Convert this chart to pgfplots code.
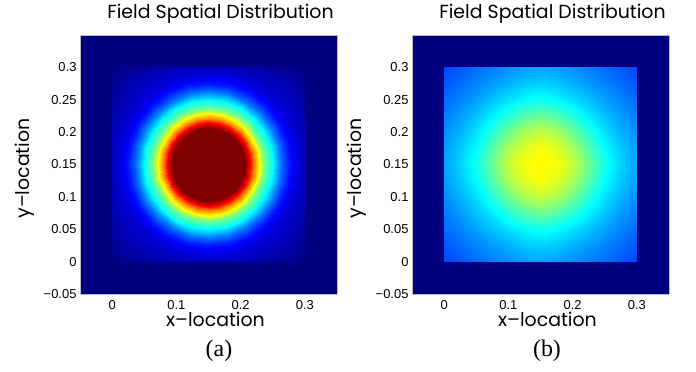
\documentclass[border=0pt]{standalone}
\usepackage{fontspec}
\usepackage{pgfplots}
\pgfplotsset{compat=1.18}
\newfontfamily\arialf{Liberation Sans}
\newfontfamily\gothic{Poppins}
\newfontfamily\timesf{Liberation Serif}
\pgfplotsset{
  fieldax/.style={
    view={0}{90}, scale only axis, width=257bp, height=259bp,
    colormap/jet, point meta min=0, point meta max=1,
    enlargelimits=false, axis on top,
    major tick length=0pt, ztick=\empty,
    axis line style={draw=gray!55, line width=0.5pt},
    tick label style={font=\arialf\fontsize{13}{13}\selectfont, text=black},
    xticklabel style={yshift=-3bp},
    xticklabels={0,0.1,0.2,0.3},
    yticklabels={−0.05,0,0.05,0.1,0.15,0.2,0.25,0.3},
    title={Field Spatial Distribution},
    title style={font=\gothic\fontsize{19}{21}\selectfont, at={([xshift=12bp,yshift=11bp]axis description cs:0.5,1)}, anchor=base},
    xlabel={x–location}, ylabel={y–location},
    label style={font=\gothic\fontsize{19}{21}\selectfont},
    xlabel style={at={([xshift=7bp,yshift=-33bp]axis description cs:0.5,0)}, anchor=base},
    ylabel style={at={([xshift=-55bp,yshift=-4bp]axis description cs:0,0.5)}, anchor=center},
  }
}
\begin{document}
\begin{tikzpicture}
\useasboundingbox (0,0) rectangle (696bp,372bp);
% ---------------- (a) ----------------
\begin{axis}[fieldax, at={(80bp,78bp)}, anchor=south west,
  xmin=-0.2, xmax=0.2, ymin=-0.2, ymax=0.2,
  xtick={-0.15,-0.05,0.05,0.15},
  ytick={-0.2,-0.15,-0.1,-0.05,0,0.05,0.1,0.15}]
\addplot3[surf, shader=interp, mesh/rows=2, mesh/cols=2] coordinates {
(-0.2,-0.2,0) (0.2,-0.2,0) (-0.2,0.2,0) (0.2,0.2,0)};
\addplot3[surf, shader=interp, data cs=polar, mesh/rows=11, mesh/cols=25] coordinates {
(0,0,1) (15,0,1) (30,0,1) (45,0,1) (60,0,1) (75,0,1) (90,0,1) (105,0,1) (120,0,1) (135,0,1) (150,0,1) (165,0,1) (180,0,1) (195,0,1) (210,0,1) (225,0,1) (240,0,1) (255,0,1) (270,0,1) (285,0,1) (300,0,1) (315,0,1) (330,0,1) (345,0,1) (360,0,1)
(0,0.057,1) (15,0.057,1) (30,0.057,1) (45,0.057,1) (60,0.057,1) (75,0.057,1) (90,0.057,1) (105,0.057,1) (120,0.057,1) (135,0.057,1) (150,0.057,1) (165,0.057,1) (180,0.057,1) (195,0.057,1) (210,0.057,1) (225,0.057,1) (240,0.057,1) (255,0.057,1) (270,0.057,1) (285,0.057,1) (300,0.057,1) (315,0.057,1) (330,0.057,1) (345,0.057,1) (360,0.057,1)
(0,0.065,0.875) (15,0.065,0.875) (30,0.065,0.875) (45,0.065,0.875) (60,0.065,0.875) (75,0.065,0.875) (90,0.065,0.875) (105,0.065,0.875) (120,0.065,0.875) (135,0.065,0.875) (150,0.065,0.875) (165,0.065,0.875) (180,0.065,0.875) (195,0.065,0.875) (210,0.065,0.875) (225,0.065,0.875) (240,0.065,0.875) (255,0.065,0.875) (270,0.065,0.875) (285,0.065,0.875) (300,0.065,0.875) (315,0.065,0.875) (330,0.065,0.875) (345,0.065,0.875) (360,0.065,0.875)
(0,0.071,0.75) (15,0.071,0.75) (30,0.071,0.75) (45,0.071,0.75) (60,0.071,0.75) (75,0.071,0.75) (90,0.071,0.75) (105,0.071,0.75) (120,0.071,0.75) (135,0.071,0.75) (150,0.071,0.75) (165,0.071,0.75) (180,0.071,0.75) (195,0.071,0.75) (210,0.071,0.75) (225,0.071,0.75) (240,0.071,0.75) (255,0.071,0.75) (270,0.071,0.75) (285,0.071,0.75) (300,0.071,0.75) (315,0.071,0.75) (330,0.071,0.75) (345,0.071,0.75) (360,0.071,0.75)
(0,0.079,0.625) (15,0.079,0.625) (30,0.079,0.625) (45,0.079,0.625) (60,0.079,0.625) (75,0.079,0.625) (90,0.079,0.625) (105,0.079,0.625) (120,0.079,0.625) (135,0.079,0.625) (150,0.079,0.625) (165,0.079,0.625) (180,0.079,0.625) (195,0.079,0.625) (210,0.079,0.625) (225,0.079,0.625) (240,0.079,0.625) (255,0.079,0.625) (270,0.079,0.625) (285,0.079,0.625) (300,0.079,0.625) (315,0.079,0.625) (330,0.079,0.625) (345,0.079,0.625) (360,0.079,0.625)
(0,0.086,0.5) (15,0.086,0.5) (30,0.086,0.5) (45,0.086,0.5) (60,0.086,0.5) (75,0.086,0.5) (90,0.086,0.5) (105,0.086,0.5) (120,0.086,0.5) (135,0.086,0.5) (150,0.086,0.5) (165,0.086,0.5) (180,0.086,0.5) (195,0.086,0.5) (210,0.086,0.5) (225,0.086,0.5) (240,0.086,0.5) (255,0.086,0.5) (270,0.086,0.5) (285,0.086,0.5) (300,0.086,0.5) (315,0.086,0.5) (330,0.086,0.5) (345,0.086,0.5) (360,0.086,0.5)
(0,0.1,0.375) (15,0.1,0.375) (30,0.1,0.375) (45,0.1,0.375) (60,0.1,0.375) (75,0.1,0.375) (90,0.1,0.375) (105,0.1,0.375) (120,0.1,0.375) (135,0.1,0.375) (150,0.1,0.375) (165,0.1,0.375) (180,0.1,0.375) (195,0.1,0.375) (210,0.1,0.375) (225,0.1,0.375) (240,0.1,0.375) (255,0.1,0.375) (270,0.1,0.375) (285,0.1,0.375) (300,0.1,0.375) (315,0.1,0.375) (330,0.1,0.375) (345,0.1,0.375) (360,0.1,0.375)
(0,0.112,0.25) (15,0.112,0.25) (30,0.112,0.25) (45,0.112,0.25) (60,0.112,0.25) (75,0.112,0.25) (90,0.112,0.25) (105,0.112,0.25) (120,0.112,0.25) (135,0.112,0.25) (150,0.112,0.25) (165,0.112,0.25) (180,0.112,0.25) (195,0.112,0.25) (210,0.112,0.25) (225,0.112,0.25) (240,0.112,0.25) (255,0.112,0.25) (270,0.112,0.25) (285,0.112,0.25) (300,0.112,0.25) (315,0.112,0.25) (330,0.112,0.25) (345,0.112,0.25) (360,0.112,0.25)
(0,0.125,0.15) (15,0.125,0.15) (30,0.125,0.15) (45,0.125,0.15) (60,0.125,0.15) (75,0.125,0.15) (90,0.125,0.15) (105,0.125,0.15) (120,0.125,0.15) (135,0.125,0.15) (150,0.125,0.15) (165,0.125,0.15) (180,0.125,0.15) (195,0.125,0.15) (210,0.125,0.15) (225,0.125,0.15) (240,0.125,0.15) (255,0.125,0.15) (270,0.125,0.15) (285,0.125,0.15) (300,0.125,0.15) (315,0.125,0.15) (330,0.125,0.15) (345,0.125,0.15) (360,0.125,0.15)
(0,0.14,0.09) (15,0.14,0.09) (30,0.14,0.09) (45,0.14,0.09) (60,0.14,0.09) (75,0.14,0.09) (90,0.14,0.09) (105,0.14,0.09) (120,0.14,0.09) (135,0.14,0.09) (150,0.14,0.09) (165,0.14,0.09) (180,0.14,0.09) (195,0.14,0.09) (210,0.14,0.09) (225,0.14,0.09) (240,0.14,0.09) (255,0.14,0.09) (270,0.14,0.09) (285,0.14,0.09) (300,0.14,0.09) (315,0.14,0.09) (330,0.14,0.09) (345,0.14,0.09) (360,0.14,0.09)
(0,0.15,0.06) (15,0.1553,0.055) (30,0.1732,0.035) (45,0.2121,0) (60,0.1732,0.035) (75,0.1553,0.055) (90,0.15,0.06) (105,0.1553,0.055) (120,0.1732,0.035) (135,0.2121,0) (150,0.1732,0.035) (165,0.1553,0.055) (180,0.15,0.06) (195,0.1553,0.055) (210,0.1732,0.035) (225,0.2121,0) (240,0.1732,0.035) (255,0.1553,0.055) (270,0.15,0.06) (285,0.1553,0.055) (300,0.1732,0.035) (315,0.2121,0) (330,0.1732,0.035) (345,0.1553,0.055) (360,0.15,0.06)
};
\end{axis}
% ---------------- (b) ----------------
\begin{axis}[fieldax, at={(412bp,78bp)}, anchor=south west,
  xmin=-0.05, xmax=0.35, ymin=-0.05, ymax=0.35,
  xtick={0,0.1,0.2,0.3},
  ytick={-0.05,0,0.05,0.1,0.15,0.2,0.25,0.3}]
\addplot3[surf, shader=interp, mesh/rows=2, mesh/cols=2] coordinates {
(-0.05,-0.05,0) (0.35,-0.05,0) (-0.05,0.35,0) (0.35,0.35,0)};
\addplot3[surf, shader=interp, mesh/rows=13, mesh/cols=13] coordinates {
(0,0,0.19) (0.025,0,0.208) (0.05,0,0.228) (0.075,0,0.246) (0.1,0,0.264) (0.125,0,0.278) (0.15,0,0.285) (0.175,0,0.278) (0.2,0,0.264) (0.225,0,0.246) (0.25,0,0.228) (0.275,0,0.208) (0.3,0,0.19)
(0,0.025,0.208) (0.025,0.025,0.232) (0.05,0.025,0.255) (0.075,0.025,0.278) (0.1,0.025,0.3) (0.125,0.025,0.32) (0.15,0.025,0.33) (0.175,0.025,0.32) (0.2,0.025,0.3) (0.225,0.025,0.278) (0.25,0.025,0.255) (0.275,0.025,0.232) (0.3,0.025,0.208)
(0,0.05,0.228) (0.025,0.05,0.255) (0.05,0.05,0.283) (0.075,0.05,0.315) (0.1,0.05,0.345) (0.125,0.05,0.375) (0.15,0.05,0.39) (0.175,0.05,0.375) (0.2,0.05,0.345) (0.225,0.05,0.315) (0.25,0.05,0.283) (0.275,0.05,0.255) (0.3,0.05,0.228)
(0,0.075,0.246) (0.025,0.075,0.278) (0.05,0.075,0.315) (0.075,0.075,0.36) (0.1,0.075,0.41) (0.125,0.075,0.455) (0.15,0.075,0.48) (0.175,0.075,0.455) (0.2,0.075,0.41) (0.225,0.075,0.36) (0.25,0.075,0.315) (0.275,0.075,0.278) (0.3,0.075,0.246)
(0,0.1,0.264) (0.025,0.1,0.3) (0.05,0.1,0.345) (0.075,0.1,0.41) (0.1,0.1,0.48) (0.125,0.1,0.54) (0.15,0.1,0.57) (0.175,0.1,0.54) (0.2,0.1,0.48) (0.225,0.1,0.41) (0.25,0.1,0.345) (0.275,0.1,0.3) (0.3,0.1,0.264)
(0,0.125,0.278) (0.025,0.125,0.32) (0.05,0.125,0.375) (0.075,0.125,0.455) (0.1,0.125,0.54) (0.125,0.125,0.59) (0.15,0.125,0.62) (0.175,0.125,0.59) (0.2,0.125,0.54) (0.225,0.125,0.455) (0.25,0.125,0.375) (0.275,0.125,0.32) (0.3,0.125,0.278)
(0,0.15,0.285) (0.025,0.15,0.33) (0.05,0.15,0.39) (0.075,0.15,0.48) (0.1,0.15,0.57) (0.125,0.15,0.62) (0.15,0.15,0.63) (0.175,0.15,0.62) (0.2,0.15,0.57) (0.225,0.15,0.48) (0.25,0.15,0.39) (0.275,0.15,0.33) (0.3,0.15,0.285)
(0,0.175,0.278) (0.025,0.175,0.32) (0.05,0.175,0.375) (0.075,0.175,0.455) (0.1,0.175,0.54) (0.125,0.175,0.59) (0.15,0.175,0.62) (0.175,0.175,0.59) (0.2,0.175,0.54) (0.225,0.175,0.455) (0.25,0.175,0.375) (0.275,0.175,0.32) (0.3,0.175,0.278)
(0,0.2,0.264) (0.025,0.2,0.3) (0.05,0.2,0.345) (0.075,0.2,0.41) (0.1,0.2,0.48) (0.125,0.2,0.54) (0.15,0.2,0.57) (0.175,0.2,0.54) (0.2,0.2,0.48) (0.225,0.2,0.41) (0.25,0.2,0.345) (0.275,0.2,0.3) (0.3,0.2,0.264)
(0,0.225,0.246) (0.025,0.225,0.278) (0.05,0.225,0.315) (0.075,0.225,0.36) (0.1,0.225,0.41) (0.125,0.225,0.455) (0.15,0.225,0.48) (0.175,0.225,0.455) (0.2,0.225,0.41) (0.225,0.225,0.36) (0.25,0.225,0.315) (0.275,0.225,0.278) (0.3,0.225,0.246)
(0,0.25,0.228) (0.025,0.25,0.255) (0.05,0.25,0.283) (0.075,0.25,0.315) (0.1,0.25,0.345) (0.125,0.25,0.375) (0.15,0.25,0.39) (0.175,0.25,0.375) (0.2,0.25,0.345) (0.225,0.25,0.315) (0.25,0.25,0.283) (0.275,0.25,0.255) (0.3,0.25,0.228)
(0,0.275,0.208) (0.025,0.275,0.232) (0.05,0.275,0.255) (0.075,0.275,0.278) (0.1,0.275,0.3) (0.125,0.275,0.32) (0.15,0.275,0.33) (0.175,0.275,0.32) (0.2,0.275,0.3) (0.225,0.275,0.278) (0.25,0.275,0.255) (0.275,0.275,0.232) (0.3,0.275,0.208)
(0,0.3,0.19) (0.025,0.3,0.208) (0.05,0.3,0.228) (0.075,0.3,0.246) (0.1,0.3,0.264) (0.125,0.3,0.278) (0.15,0.3,0.285) (0.175,0.3,0.278) (0.2,0.3,0.264) (0.225,0.3,0.246) (0.25,0.3,0.228) (0.275,0.3,0.208) (0.3,0.3,0.19)
};
\end{axis}
\node[font=\timesf\fontsize{24}{24}\selectfont] at (219bp,21bp) {(a)};
\node[font=\timesf\fontsize{24}{24}\selectfont] at (547bp,21bp) {(b)};
\end{tikzpicture}
\end{document}
